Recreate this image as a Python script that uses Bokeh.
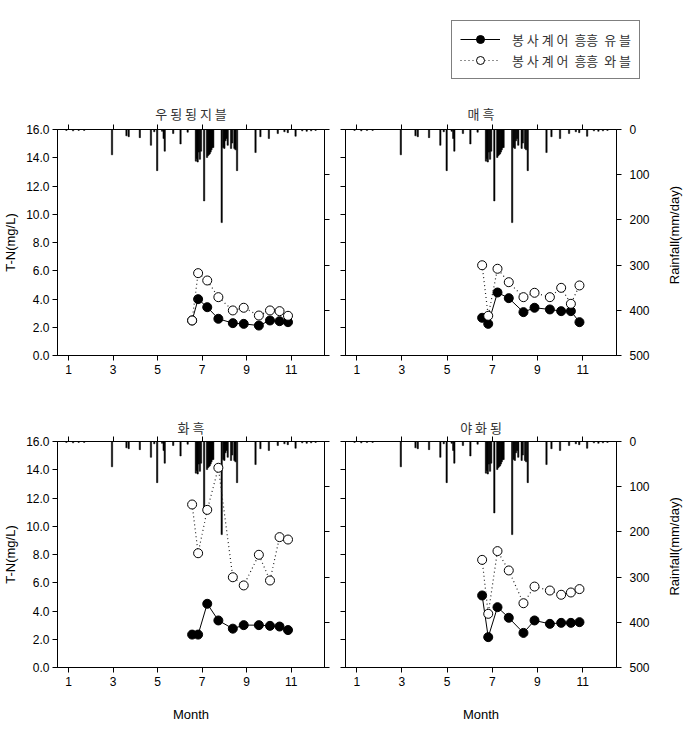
import math
from bokeh.plotting import figure
from bokeh.models import (Range1d, LinearAxis, FixedTicker, PrintfTickFormatter,
                          Legend, LegendItem, ColumnDataSource, Label)
from bokeh.layouts import column, row
from bokeh.embed import file_html
from bokeh.resources import INLINE

# ---------------- data ----------------
month_ticks = [1, 3, 5, 7, 9, 11]
tn_ticks = [0, 2, 4, 6, 8, 10, 12, 14, 16]
rain_ticks = [0, 100, 200, 300, 400, 500]

series_a_label = "봉 사 계 어  흥흥  유 블"
series_b_label = "봉 사 계 어  흥흥  와 블"

titles = ["우 됭 됭 지 블", "매 흑", "화 흑", "야 화 됭"]

sample_month = [6.55, 6.82, 7.23, 7.73, 8.38, 8.87, 9.55, 10.05, 10.48, 10.86]

st1_a = [2.48, 3.99, 3.42, 2.60, 2.29, 2.24, 2.12, 2.48, 2.43, 2.36]
st1_b = [2.48, 5.83, 5.31, 4.13, 3.19, 3.38, 2.83, 3.19, 3.14, 2.81]
st2_a = [2.67, 2.24, 4.46, 4.06, 3.07, 3.38, 3.26, 3.14, 3.14, 2.36]
st2_b = [6.39, 2.81, 6.14, 5.19, 4.13, 4.44, 4.13, 4.79, 3.66, 4.96]
st3_a = [2.33, 2.33, 4.51, 3.33, 2.75, 3.00, 3.00, 2.95, 2.90, 2.65]
st3_b = [11.54, 8.09, 11.16, 14.14, 6.39, 5.81, 7.98, 6.16, 9.23, 9.06]
st4_a = [5.10, 2.15, 4.27, 3.52, 2.45, 3.33, 3.09, 3.16, 3.16, 3.21]
st4_b = [7.62, 3.80, 8.24, 6.87, 4.55, 5.73, 5.45, 5.15, 5.31, 5.55]

rain_month = [0.9, 1.2, 1.45, 1.7, 2.95, 3.6, 3.7, 4.2, 4.7, 4.85, 4.98, 5.2, 5.27,
              5.32, 5.7, 6.03, 6.35, 6.72, 6.76, 6.8, 6.85, 6.9, 6.95, 7.09, 7.22,
              7.26, 7.3, 7.34, 7.38, 7.42, 7.46, 7.5, 7.88, 7.95, 8.0, 8.05, 8.1,
              8.15, 8.3, 8.35, 8.45, 8.5, 8.57, 9.4, 9.62, 10.0, 10.4, 10.7, 10.85,
              11.2, 11.5, 11.7, 11.9, 12.1]
rain_mm = [2, 3, 2, 2, 56, 14, 16, 18, 35, 5, 91, 4, 20,
           48, 9, 32, 6, 70, 64, 72, 50, 66, 48, 158, 62,
           58, 56, 54, 50, 45, 40, 40, 206, 40, 42, 25, 20,
           35, 42, 30, 42, 45, 91, 51, 16, 20, 9, 5, 7,
           15, 3, 4, 3, 2]

FONT = "Liberation Sans"
KFONT = "Noto Sans CJK KR"
FRAME_H = 226


def style_axis(ax, ticks, show_labels):
    ax.axis_line_color = "black"
    ax.major_tick_line_color = "black"
    ax.major_tick_in = 0
    ax.major_tick_out = 5
    ax.minor_tick_line_color = None
    ax.major_label_text_font = FONT
    ax.major_label_text_color = "black"
    ax.major_label_text_font_size = "12px"
    ax.axis_label_text_font = FONT
    ax.axis_label_text_font_style = "normal"
    ax.axis_label_text_font_size = "13px"
    ax.axis_label_text_color = "black"
    if not show_labels:
        ax.major_label_overrides = {t: "" for t in ticks}
        ax.major_label_standoff = 0


def panel(title, a, b, left, bottom, fw, mbl, mbr, mbt, mbb, tstand):
    p = figure(frame_width=fw, frame_height=FRAME_H,
               x_range=Range1d(0.5, 12.5), y_range=Range1d(0, 16),
               output_backend="svg", toolbar_location=None,
               x_axis_location=None, y_axis_location=None,
               min_border_left=mbl, min_border_right=mbr,
               min_border_top=mbt, min_border_bottom=mbb)
    p.extra_y_ranges = {"rain": Range1d(500, 0)}
    p.xgrid.visible = False
    p.ygrid.visible = False
    p.outline_line_color = "black"

    xb = LinearAxis(ticker=FixedTicker(ticks=month_ticks))
    style_axis(xb, month_ticks, True)
    xb.major_label_standoff = 4
    if bottom:
        xb.axis_label = "Month"
        xb.axis_label_standoff = 18
    p.add_layout(xb, "below")

    xt = LinearAxis(ticker=FixedTicker(ticks=month_ticks))
    style_axis(xt, month_ticks, False)
    p.add_layout(xt, "above")

    yl = LinearAxis(ticker=FixedTicker(ticks=tn_ticks),
                    formatter=PrintfTickFormatter(format="%.1f"))
    style_axis(yl, tn_ticks, left)
    if left:
        yl.axis_label = "T-N(mg/L)"
        yl.major_label_standoff = 3
        yl.axis_label_standoff = 5
    p.add_layout(yl, "left")

    yr = LinearAxis(y_range_name="rain", ticker=FixedTicker(ticks=rain_ticks))
    style_axis(yr, rain_ticks, not left)
    if not left:
        yr.major_label_standoff = 8
    p.add_layout(yr, "right")

    p.vbar(x=rain_month, top=rain_mm, bottom=0, width=0.06,
           y_range_name="rain", fill_color="black", line_color="black",
           line_width=0.5)

    p.line(sample_month, a, line_color="black", line_width=1)
    p.scatter(sample_month, a, size=9, marker="circle",
              fill_color="black", line_color="black")
    p.line(sample_month, b, line_color="#222222", line_width=1.2,
           line_dash="1 3")
    p.scatter(sample_month, b, size=9, marker="circle",
              fill_color="white", line_color="black", line_width=1)

    p.title.text = title
    p.title.align = "center"
    p.title.text_font = KFONT
    p.title.text_font_size = "13px"
    p.title.text_font_style = "normal"
    p.title.text_color = "#333333"
    p.title.standoff = tstand
    return p


def side_label(text, mbt, mbb, width=31, cx=18):
    h = mbt + FRAME_H + mbb
    f = figure(width=width, height=h, output_backend="svg", toolbar_location=None,
               x_axis_type=None, y_axis_type=None,
               x_range=Range1d(0, width), y_range=Range1d(0, h),
               min_border_left=0, min_border_right=0,
               min_border_top=0, min_border_bottom=0)
    f.outline_line_color = None
    f.xgrid.visible = False
    f.ygrid.visible = False
    f.add_layout(Label(x=cx, y=mbb + FRAME_H / 2, text=text, angle=math.pi / 2,
                       text_align="center", text_baseline="middle",
                       text_font=FONT, text_font_size="13px", text_color="black"))
    return f


# header with legend
hdr = figure(width=680, height=99, output_backend="svg", toolbar_location=None,
             x_axis_type=None, y_axis_type=None,
             x_range=Range1d(0, 1), y_range=Range1d(0, 1),
             min_border_left=0, min_border_right=0,
             min_border_top=0, min_border_bottom=0)
hdr.outline_line_color = None
hdr.xgrid.visible = False
hdr.ygrid.visible = False
offscreen = ColumnDataSource(data=dict(x=[-5], y=[-5]))
la = hdr.line("x", "y", source=offscreen, line_color="black", line_width=1)
sa = hdr.scatter("x", "y", source=offscreen, size=9, marker="circle",
                 fill_color="black", line_color="black")
lb = hdr.line("x", "y", source=offscreen, line_color="#222222", line_width=1.2,
              line_dash="1 3")
sb = hdr.scatter("x", "y", source=offscreen, size=9, marker="circle",
                 fill_color="white", line_color="black")
legend = Legend(items=[LegendItem(label=series_a_label, renderers=[la, sa]),
                       LegendItem(label=series_b_label, renderers=[lb, sb])],
                location=(451, 20), orientation="vertical",
                border_line_color="black", border_line_width=1,
                background_fill_color="white", background_fill_alpha=1,
                label_text_font=KFONT, label_text_font_size="13px",
                label_text_color="#333333",
                glyph_width=40, glyph_height=20, label_standoff=12,
                padding=8, spacing=1, margin=0)
hdr.add_layout(legend, "center")

p1 = panel(titles[0], st1_a, st1_b, True, False, 267, 55, 9, 30, 50, 4)
p2 = panel(titles[1], st2_a, st2_b, False, False, 271, 12, 40, 30, 50, 4)
r1 = side_label("Rainfall(mm/day)", 30, 50)
p3 = panel(titles[2], st3_a, st3_b, True, True, 267, 55, 9, 36, 59, 0)
p4 = panel(titles[3], st4_a, st4_b, False, True, 271, 12, 40, 36, 59, 0)
r2 = side_label("Rainfall(mm/day)", 36, 59)

layout = column(hdr, row(p1, p2, r1), row(p3, p4, r2))

open("out.html", "w").write(file_html(layout, INLINE))
